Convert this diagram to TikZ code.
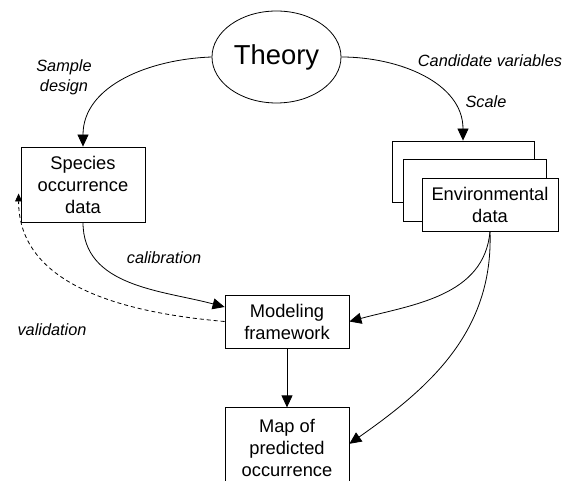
\documentclass[tikz,border=0pt]{standalone}
\usepackage{fontspec}
\setmainfont{Liberation Sans}
\usetikzlibrary{arrows.meta, shapes.geometric, positioning}

\newcommand{\boxfont}{\fontsize{18.3}{22}\selectfont}
\newcommand{\lblfont}{\fontsize{16.3}{19.5}\selectfont\itshape}
\tikzset{
   box/.style={draw, fill=white, inner sep=0pt, align=center, font=\boxfont},
   lbl/.style={inner sep=0pt, align=center, font=\lblfont},
}

\begin{document}
\begin{tikzpicture}[x=1pt, y=1pt, line width=0.8pt, >={Triangle[length=12pt, width=11pt]}]
   \path[use as bounding box, clip] (0,0) rectangle (565,481);

   \node[ellipse, draw, minimum width=129pt, minimum height=92pt, inner sep=0pt,
         font=\fontsize{27.4}{30}\selectfont] (theory) at (276.5,424) {Theory};
   \node[box, minimum width=124pt, minimum height=75pt] (species) at (83,296.5) {Species\\occurrence\\data};
   \node[box, minimum width=142pt, minimum height=61pt] (env3) at (463,309.5) {};
   \node[box, minimum width=143pt, minimum height=62pt] (env2) at (475,291) {};
   \node[box, minimum width=136pt, minimum height=53pt] (env) at (490,276.5) {Environmental\\data};
   \node[box, minimum width=124pt, minimum height=53pt] (model) at (287,159.5) {Modeling\\framework};
   \node[box, minimum width=124pt, minimum height=80pt] (map) [below=59pt of model] {Map of\\predicted\\occurrence};

   \node[lbl] (design) at (64,403.5) {Sample\\design};
   \node[lbl] (cand) at (490,420) {Candidate variables};
   \node[lbl] (scale) at (486,379) {Scale};
   \node[lbl] (calib) at (164,223) {calibration};
   \node[lbl] (valid) at (52,151) {validation};

   \coordinate (modelin) at ([yshift=14.5pt]model.west);
   \coordinate (mapin) at ([yshift=4pt]map.east);
   \coordinate (valend) at ([xshift=-2pt, yshift=-9pt]species.west);

   \path[->] (theory.west) edge[out=182, in=90] (species.north);
   \path[->] (theory.east) edge[out=0, in=90] (env3.north);
   \path[->] (species.south) edge[out=270, in=165] (modelin);
   \path[->] (env.south) edge[out=265, in=15] (model.east);
   \path[->] (env.south) edge[out=272, in=35] (mapin);
   \path[->] (model) edge (map);
   \path[-{Triangle[length=8pt, width=7pt]}, dash pattern=on 4pt off 3pt]
      (model.west) edge[out=175, in=270] (valend);
\end{tikzpicture}
\end{document}
